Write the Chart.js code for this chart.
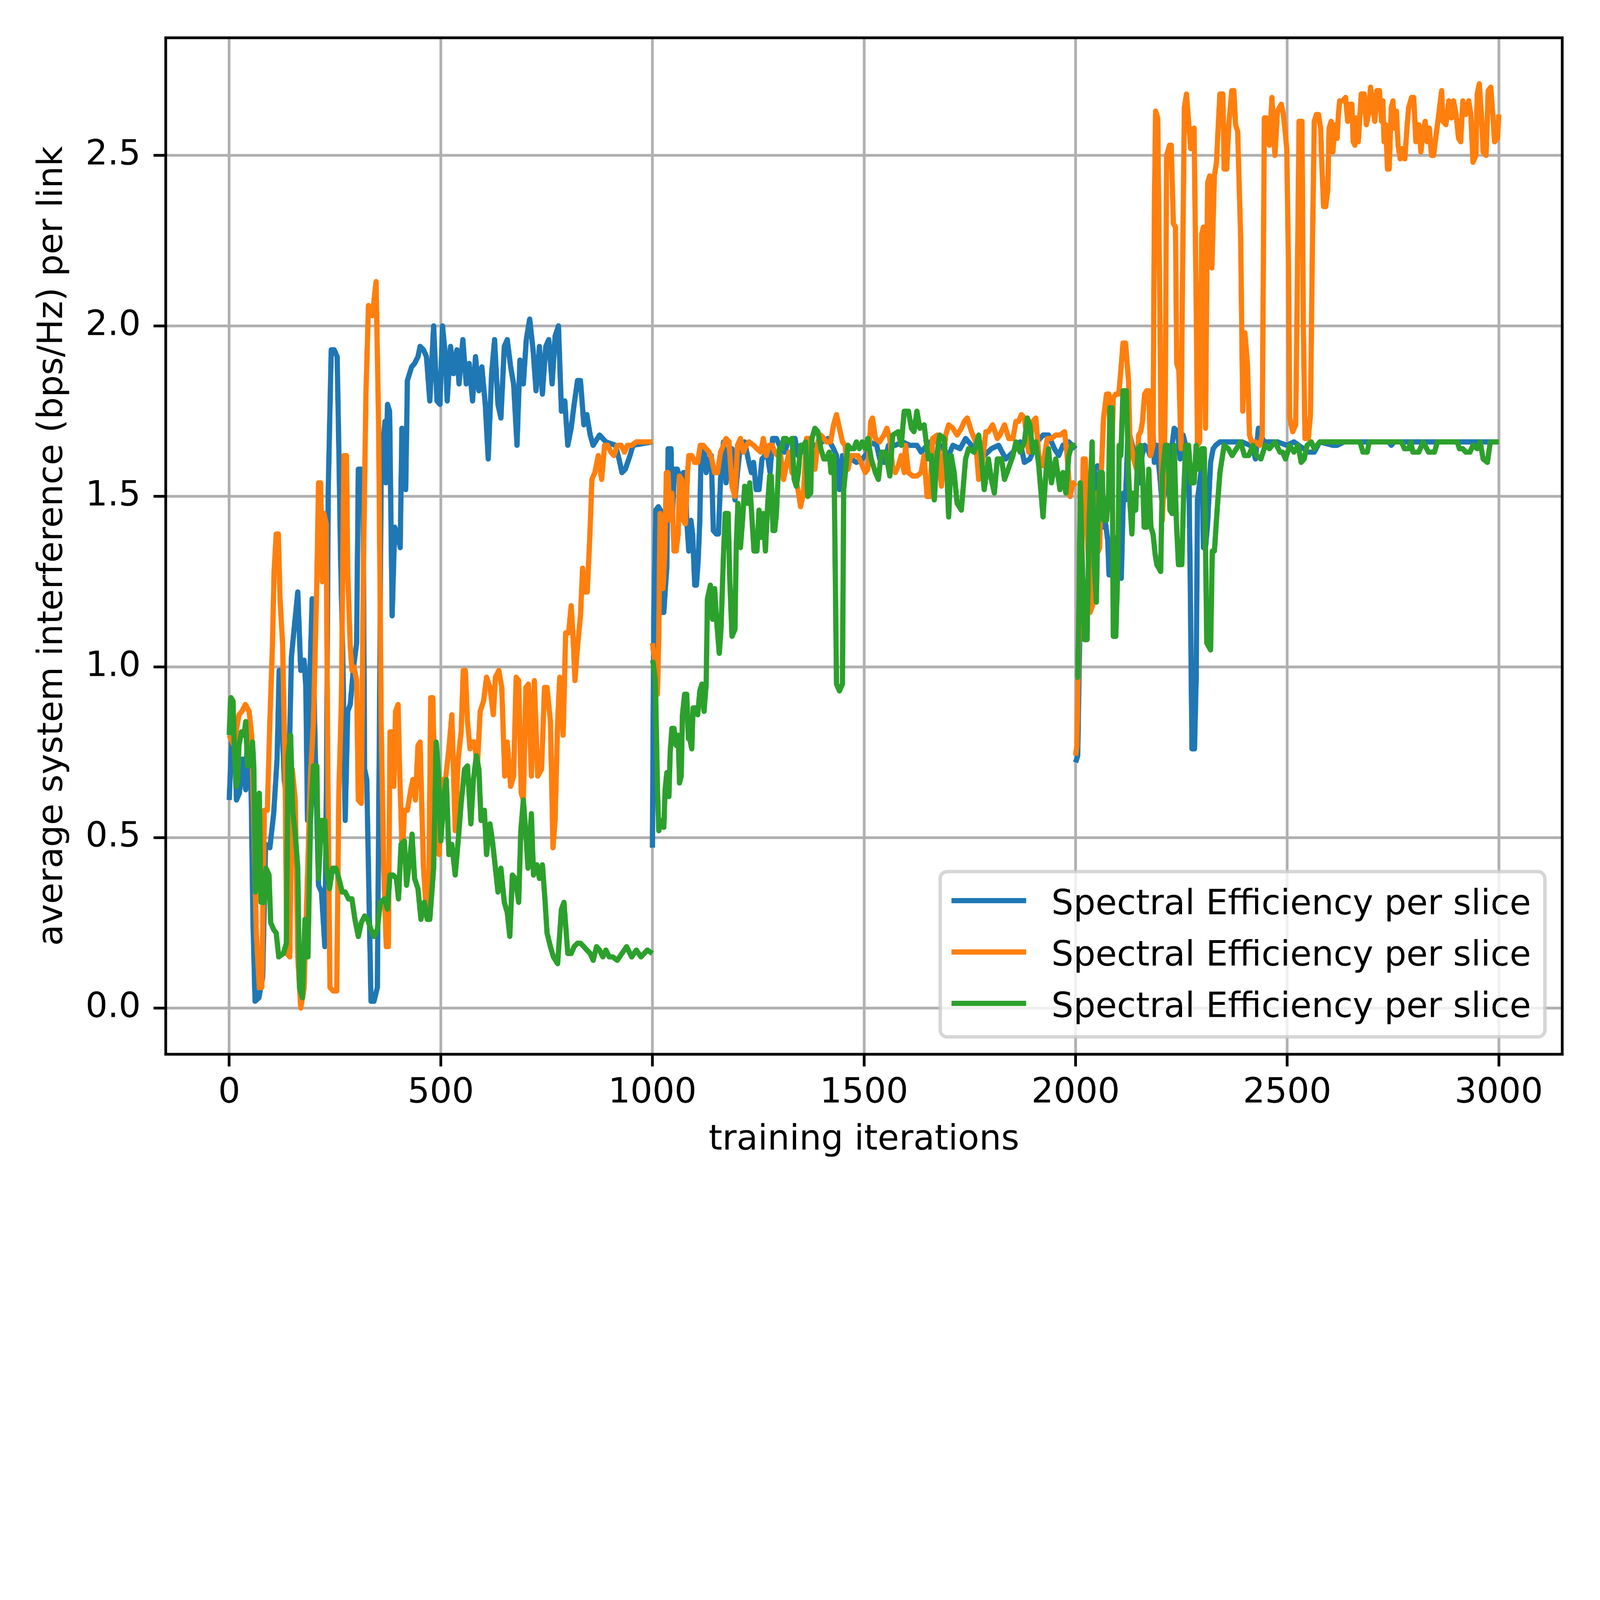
<!DOCTYPE html>
<html>
<head>
<meta charset="utf-8">
<script src="https://cdn.jsdelivr.net/npm/chart.js@4.4.0/dist/chart.umd.min.js"></script>
<style>
  html, body { margin: 0; padding: 0; background: #fff; overflow: hidden; }
  canvas { display: block; }
</style>
</head>
<body>
<canvas id="chart" width="6400" height="4800" style="width:min(100vw, calc(100vh * 4 / 3));height:auto"></canvas>
<script>
// [iteration, value], one array per run of 1000 iterations
const blueRun1 = [[0,0.61],[6,0.80],[11,0.84],[17,0.61],[24,0.63],[32,0.73],[39,0.64],[43,0.81],[51,0.70],[56,0.26],[61,0.02],[70,0.03],[79,0.09],[86,0.48],[96,0.47],[105,0.57],[113,0.73],[118,0.99],[124,0.87],[130,0.67],[139,0.58],[147,1.03],[154,1.12],[162,1.22],[169,0.99],[177,1.02],[181,0.94],[185,0.55],[189,0.91],[196,1.20],[203,0.77],[211,0.36],[218,0.34],[226,0.18],[230,0.70],[234,1.52],[241,1.93],[248,1.93],[255,1.91],[259,1.64],[263,1.33],[269,0.99],[274,0.55],[280,0.87],[286,0.89],[293,0.99],[301,1.07],[305,1.58],[312,1.58],[316,1.54],[320,0.70],[325,0.67],[329,0.41],[335,0.02],[342,0.02],[350,0.06],[355,0.84],[359,1.57],[363,1.65],[368,1.72],[370,1.54],[374,1.77],[379,1.75],[382,1.45],[385,1.15],[391,1.41],[400,1.38],[404,1.35],[408,1.70],[414,1.68],[417,1.52],[421,1.84],[431,1.88],[438,1.89],[446,1.91],[451,1.94],[459,1.93],[466,1.91],[474,1.78],[483,2.00],[491,1.78],[498,1.77],[504,2.00],[511,1.91],[515,1.78],[523,1.94],[530,1.86],[538,1.93],[543,1.83],[552,1.96],[560,1.83],[567,1.89],[575,1.78],[582,1.91],[590,1.81],[597,1.88],[605,1.77],[612,1.61],[620,1.86],[627,1.96],[635,1.77],[642,1.73],[650,1.94],[657,1.96],[665,1.88],[672,1.83],[680,1.65],[687,1.90],[695,1.83],[702,1.96],[710,2.02],[718,1.93],[725,1.81],[733,1.94],[740,1.80],[748,1.94],[755,1.96],[763,1.83],[770,1.97],[778,2.00],[785,1.75],[793,1.78],[800,1.65],[808,1.70],[815,1.77],[823,1.84],[830,1.84],[838,1.71],[845,1.74],[853,1.68],[860,1.65],[875,1.68],[890,1.66],[913,1.65],[921,1.61],[928,1.57],[936,1.58],[947,1.62],[954,1.65],[1000,1.66]];
const blueRun2 = [[1000,0.47],[1003,1.11],[1008,1.46],[1014,1.47],[1019,1.46],[1022,1.16],[1027,1.16],[1030,1.22],[1034,1.29],[1037,1.64],[1044,1.64],[1047,1.43],[1052,1.58],[1059,1.58],[1063,1.56],[1068,1.53],[1073,1.57],[1078,1.57],[1081,1.43],[1086,1.34],[1091,1.43],[1095,1.39],[1100,1.24],[1104,1.24],[1108,1.31],[1112,1.43],[1115,1.63],[1122,1.64],[1127,1.57],[1134,1.61],[1139,1.62],[1144,1.40],[1151,1.39],[1156,1.39],[1161,1.55],[1168,1.66],[1174,1.54],[1181,1.64],[1188,1.64],[1195,1.49],[1201,1.57],[1208,1.65],[1218,1.66],[1228,1.60],[1234,1.57],[1239,1.60],[1245,1.52],[1252,1.52],[1259,1.61],[1266,1.62],[1272,1.62],[1278,1.57],[1284,1.67],[1293,1.67],[1300,1.65],[1306,1.63],[1313,1.63],[1320,1.66],[1330,1.67],[1337,1.67],[1344,1.62],[1361,1.64],[1377,1.65],[1391,1.65],[1401,1.66],[1415,1.67],[1428,1.64],[1435,1.62],[1442,1.52],[1449,1.62],[1455,1.59],[1469,1.61],[1482,1.60],[1496,1.61],[1509,1.63],[1514,1.66],[1530,1.65],[1537,1.61],[1547,1.60],[1558,1.65],[1574,1.65],[1591,1.66],[1608,1.65],[1625,1.65],[1635,1.63],[1649,1.65],[1666,1.67],[1686,1.64],[1700,1.62],[1710,1.65],[1727,1.64],[1740,1.67],[1754,1.65],[1767,1.63],[1784,1.62],[1801,1.64],[1818,1.65],[1835,1.61],[1852,1.63],[1869,1.66],[1879,1.60],[1892,1.61],[1909,1.66],[1923,1.68],[1936,1.68],[1950,1.64],[1960,1.62],[1970,1.65],[1984,1.66],[2000,1.64]];
const blueRun3 = [[2000,0.72],[2005,0.74],[2010,1.11],[2015,1.38],[2019,1.51],[2024,1.54],[2029,1.49],[2034,1.38],[2040,1.30],[2045,1.58],[2052,1.59],[2058,1.58],[2065,1.41],[2071,1.42],[2076,1.37],[2079,1.27],[2084,1.27],[2087,1.34],[2091,1.38],[2095,1.35],[2102,1.27],[2108,1.26],[2113,1.51],[2118,1.49],[2123,1.66],[2128,1.68],[2134,1.65],[2141,1.62],[2147,1.62],[2152,1.54],[2157,1.62],[2163,1.65],[2170,1.64],[2176,1.62],[2183,1.69],[2186,1.60],[2192,1.65],[2199,1.56],[2205,1.47],[2212,1.54],[2217,1.51],[2222,1.61],[2228,1.65],[2233,1.70],[2241,1.69],[2247,1.61],[2254,1.68],[2260,1.65],[2267,1.64],[2271,1.24],[2275,0.76],[2281,0.76],[2285,0.97],[2288,1.49],[2293,1.54],[2299,1.60],[2302,1.35],[2307,1.35],[2312,1.42],[2319,1.60],[2325,1.64],[2331,1.65],[2341,1.66],[2364,1.66],[2380,1.66],[2393,1.66],[2412,1.65],[2419,1.64],[2425,1.61],[2432,1.70],[2445,1.66],[2477,1.66],[2499,1.65],[2516,1.66],[2550,1.63],[2564,1.63],[2577,1.66],[2608,1.65],[2618,1.65],[2635,1.66],[2740,1.66],[2746,1.65],[2753,1.66],[2821,1.66],[3000,1.66]];

const orangeRun1 = [[0,0.80],[11,0.77],[23,0.86],[30,0.87],[38,0.89],[47,0.87],[53,0.80],[58,0.55],[64,0.22],[71,0.06],[77,0.06],[83,0.58],[90,0.58],[96,0.84],[102,1.06],[106,1.28],[111,1.39],[116,1.39],[120,1.20],[126,1.07],[132,0.70],[136,0.16],[143,0.15],[149,0.70],[156,0.61],[162,0.15],[169,0.00],[177,0.06],[184,0.35],[192,0.68],[199,0.84],[207,1.25],[211,1.54],[216,1.54],[220,1.25],[224,1.45],[229,1.42],[233,0.70],[238,0.06],[246,0.05],[254,0.05],[259,0.63],[265,0.90],[271,1.62],[277,1.62],[280,1.28],[286,1.06],[290,0.99],[295,1.00],[301,0.96],[305,0.61],[312,0.60],[317,1.28],[323,1.80],[329,2.06],[338,2.03],[347,2.13],[353,1.71],[359,0.84],[365,0.41],[371,0.18],[376,0.18],[380,0.81],[384,0.81],[389,0.65],[393,0.87],[399,0.89],[403,0.68],[409,0.44],[414,0.58],[421,0.58],[429,0.64],[434,0.67],[440,0.61],[446,0.77],[451,0.78],[459,0.41],[466,0.28],[471,0.28],[476,0.91],[481,0.91],[489,0.47],[496,0.45],[504,0.67],[511,0.67],[519,0.76],[526,0.86],[534,0.52],[541,0.73],[548,0.81],[553,0.99],[558,0.99],[563,0.84],[569,0.76],[575,0.78],[580,0.78],[586,0.70],[593,0.87],[601,0.90],[608,0.97],[616,0.94],[624,0.86],[629,0.97],[637,0.99],[644,0.94],[651,0.68],[657,0.78],[665,0.65],[672,0.68],[678,0.97],[684,0.96],[690,0.63],[695,0.61],[701,0.94],[707,0.95],[714,0.68],[721,0.96],[729,0.68],[738,0.70],[745,0.94],[751,0.94],[759,0.84],[765,0.47],[770,0.55],[776,0.84],[781,0.97],[789,0.80],[795,1.10],[802,1.10],[808,1.18],[812,1.10],[817,0.96],[823,1.06],[830,1.15],[835,1.29],[840,1.22],[846,1.22],[852,1.38],[857,1.55],[864,1.57],[872,1.62],[880,1.55],[887,1.65],[894,1.65],[902,1.63],[909,1.62],[917,1.65],[926,1.65],[934,1.63],[941,1.65],[951,1.65],[962,1.66],[1000,1.66]];
const orangeRun2 = [[1000,1.07],[1002,1.05],[1007,1.01],[1012,0.92],[1015,1.09],[1018,1.45],[1022,1.43],[1025,1.23],[1029,1.33],[1033,1.57],[1037,1.57],[1041,1.43],[1046,1.51],[1051,1.34],[1056,1.34],[1061,1.39],[1064,1.56],[1069,1.55],[1073,1.43],[1078,1.42],[1083,1.57],[1086,1.62],[1093,1.62],[1100,1.60],[1107,1.60],[1113,1.65],[1120,1.65],[1127,1.64],[1134,1.63],[1140,1.61],[1147,1.57],[1154,1.57],[1161,1.63],[1168,1.65],[1174,1.67],[1181,1.66],[1188,1.53],[1195,1.50],[1198,1.57],[1201,1.65],[1208,1.67],[1215,1.63],[1222,1.65],[1228,1.66],[1239,1.65],[1247,1.64],[1256,1.63],[1262,1.67],[1269,1.62],[1276,1.65],[1283,1.65],[1289,1.63],[1296,1.62],[1303,1.62],[1310,1.55],[1316,1.59],[1323,1.63],[1330,1.57],[1337,1.56],[1344,1.52],[1350,1.47],[1357,1.51],[1364,1.67],[1371,1.67],[1377,1.59],[1384,1.58],[1391,1.66],[1398,1.68],[1405,1.67],[1411,1.66],[1421,1.66],[1428,1.71],[1435,1.74],[1442,1.70],[1449,1.66],[1455,1.65],[1462,1.58],[1469,1.62],[1476,1.62],[1486,1.62],[1496,1.59],[1503,1.57],[1509,1.58],[1516,1.72],[1520,1.73],[1527,1.67],[1537,1.66],[1547,1.68],[1554,1.70],[1561,1.67],[1568,1.58],[1574,1.57],[1581,1.59],[1588,1.62],[1595,1.57],[1598,1.65],[1605,1.57],[1615,1.56],[1625,1.56],[1635,1.57],[1642,1.62],[1649,1.50],[1656,1.50],[1662,1.67],[1673,1.68],[1683,1.53],[1693,1.68],[1700,1.71],[1710,1.70],[1720,1.68],[1730,1.70],[1737,1.72],[1744,1.73],[1754,1.69],[1764,1.66],[1771,1.55],[1777,1.57],[1788,1.69],[1794,1.69],[1804,1.71],[1815,1.67],[1821,1.68],[1832,1.71],[1842,1.67],[1852,1.67],[1859,1.72],[1865,1.72],[1872,1.74],[1879,1.73],[1889,1.63],[1899,1.72],[1906,1.73],[1913,1.62],[1923,1.59],[1933,1.67],[1943,1.67],[1953,1.68],[1963,1.68],[1974,1.69],[1980,1.62],[1987,1.50],[1994,1.54],[2000,1.53]];
const orangeRun3 = [[2000,0.74],[2003,0.77],[2006,0.97],[2010,1.24],[2015,1.35],[2018,1.61],[2023,1.61],[2027,1.43],[2034,1.16],[2040,1.18],[2045,1.51],[2050,1.33],[2057,1.35],[2061,1.58],[2066,1.73],[2073,1.80],[2079,1.80],[2084,1.53],[2089,1.79],[2095,1.80],[2102,1.80],[2107,1.87],[2112,1.95],[2118,1.95],[2125,1.84],[2128,1.68],[2133,1.64],[2137,1.61],[2144,1.58],[2149,1.68],[2154,1.69],[2158,1.72],[2163,1.80],[2168,1.81],[2173,1.81],[2177,1.62],[2183,1.65],[2186,2.33],[2189,2.63],[2194,2.61],[2199,2.06],[2202,1.65],[2205,1.43],[2209,1.57],[2212,1.79],[2215,2.50],[2222,2.53],[2226,2.53],[2231,2.30],[2236,2.29],[2239,1.89],[2244,1.87],[2249,1.64],[2252,2.06],[2257,2.64],[2262,2.68],[2267,2.60],[2272,2.52],[2280,2.58],[2285,2.06],[2288,1.65],[2293,1.66],[2298,2.27],[2302,2.29],[2307,1.70],[2312,2.42],[2317,2.44],[2322,2.17],[2328,2.44],[2333,2.48],[2336,2.56],[2341,2.68],[2348,2.68],[2351,2.46],[2357,2.46],[2362,2.59],[2369,2.69],[2374,2.69],[2378,2.59],[2383,2.57],[2390,2.26],[2395,1.75],[2400,1.98],[2406,1.89],[2411,1.68],[2416,1.66],[2425,1.66],[2435,1.65],[2441,1.68],[2446,2.61],[2451,2.61],[2458,2.53],[2464,2.67],[2471,2.50],[2477,2.63],[2486,2.65],[2491,2.62],[2496,2.56],[2499,2.52],[2503,2.18],[2506,1.73],[2513,1.69],[2520,1.71],[2523,2.02],[2528,2.60],[2535,2.60],[2538,2.02],[2542,1.67],[2550,1.67],[2555,1.74],[2559,2.18],[2564,2.60],[2569,2.62],[2574,2.62],[2579,2.58],[2582,2.47],[2586,2.35],[2591,2.35],[2596,2.40],[2599,2.58],[2604,2.60],[2608,2.51],[2613,2.59],[2618,2.55],[2621,2.62],[2624,2.66],[2631,2.66],[2638,2.67],[2643,2.60],[2648,2.65],[2653,2.65],[2656,2.54],[2660,2.53],[2663,2.61],[2668,2.54],[2675,2.68],[2682,2.68],[2687,2.59],[2692,2.62],[2697,2.70],[2704,2.63],[2707,2.60],[2712,2.69],[2718,2.69],[2723,2.60],[2726,2.66],[2729,2.54],[2733,2.59],[2737,2.46],[2741,2.46],[2746,2.64],[2750,2.66],[2753,2.58],[2758,2.63],[2762,2.53],[2767,2.49],[2772,2.52],[2778,2.49],[2783,2.58],[2787,2.64],[2794,2.67],[2799,2.67],[2804,2.54],[2811,2.59],[2816,2.51],[2821,2.57],[2826,2.60],[2831,2.54],[2836,2.58],[2841,2.50],[2846,2.50],[2851,2.55],[2858,2.62],[2865,2.69],[2868,2.60],[2875,2.59],[2882,2.66],[2888,2.61],[2893,2.66],[2899,2.62],[2905,2.55],[2910,2.54],[2915,2.66],[2922,2.62],[2929,2.66],[2934,2.62],[2939,2.48],[2946,2.50],[2949,2.68],[2954,2.71],[2959,2.62],[2963,2.51],[2970,2.50],[2975,2.69],[2981,2.70],[2986,2.62],[2990,2.54],[2997,2.55],[3000,2.62]];

const greenRun1 = [[0,0.80],[3,0.90],[4,0.91],[9,0.90],[12,0.76],[17,0.65],[20,0.67],[23,0.77],[29,0.81],[35,0.80],[39,0.84],[43,0.71],[49,0.71],[55,0.78],[58,0.71],[62,0.34],[68,0.61],[71,0.63],[75,0.31],[83,0.31],[87,0.41],[94,0.39],[98,0.25],[105,0.23],[111,0.22],[117,0.15],[128,0.16],[135,0.19],[139,0.74],[145,0.80],[150,0.58],[156,0.51],[162,0.41],[166,0.06],[173,0.03],[179,0.26],[186,0.15],[192,0.55],[199,0.71],[207,0.71],[211,0.38],[218,0.55],[226,0.55],[230,0.41],[237,0.35],[244,0.41],[252,0.41],[259,0.38],[267,0.34],[274,0.34],[282,0.32],[290,0.32],[297,0.26],[305,0.21],[312,0.25],[320,0.27],[327,0.26],[335,0.23],[342,0.21],[350,0.23],[357,0.31],[367,0.32],[374,0.29],[380,0.39],[387,0.39],[395,0.38],[400,0.32],[406,0.48],[414,0.49],[419,0.36],[427,0.44],[432,0.51],[438,0.38],[446,0.35],[453,0.26],[461,0.31],[468,0.26],[474,0.26],[483,0.41],[489,0.78],[494,0.70],[500,0.49],[508,0.63],[513,0.67],[519,0.45],[526,0.48],[534,0.39],[541,0.49],[548,0.60],[556,0.70],[563,0.71],[571,0.54],[577,0.67],[584,0.74],[590,0.70],[595,0.55],[603,0.58],[608,0.45],[616,0.54],[622,0.49],[629,0.41],[635,0.34],[642,0.41],[650,0.31],[657,0.28],[663,0.21],[669,0.39],[676,0.38],[684,0.31],[689,0.52],[695,0.61],[701,0.51],[706,0.41],[714,0.57],[719,0.39],[727,0.42],[733,0.38],[740,0.42],[746,0.32],[751,0.22],[759,0.18],[766,0.15],[776,0.13],[785,0.29],[791,0.31],[800,0.16],[808,0.16],[815,0.18],[823,0.19],[830,0.19],[838,0.18],[845,0.17],[853,0.16],[860,0.14],[868,0.18],[875,0.17],[883,0.15],[890,0.17],[898,0.15],[906,0.15],[917,0.14],[928,0.16],[939,0.18],[951,0.15],[962,0.17],[973,0.15],[988,0.17],[1000,0.16]];
const greenRun2 = [[1000,1.02],[1002,1.01],[1007,0.96],[1012,0.64],[1015,0.52],[1022,0.55],[1027,0.53],[1030,0.64],[1034,0.69],[1039,0.62],[1042,0.75],[1046,0.82],[1051,0.82],[1056,0.77],[1061,0.80],[1064,0.66],[1068,0.68],[1071,0.86],[1076,0.92],[1081,0.92],[1085,0.79],[1088,0.79],[1093,0.76],[1096,0.88],[1102,0.88],[1107,0.86],[1112,0.93],[1117,0.95],[1122,0.87],[1127,0.95],[1130,1.20],[1137,1.24],[1142,1.14],[1147,1.23],[1152,1.13],[1158,1.04],[1162,1.11],[1168,1.33],[1172,1.45],[1179,1.45],[1183,1.25],[1188,1.09],[1195,1.11],[1198,1.35],[1202,1.48],[1208,1.35],[1213,1.43],[1218,1.53],[1225,1.48],[1230,1.54],[1235,1.44],[1240,1.34],[1247,1.34],[1252,1.46],[1257,1.38],[1262,1.45],[1267,1.34],[1272,1.47],[1277,1.56],[1281,1.56],[1285,1.40],[1289,1.40],[1293,1.45],[1300,1.64],[1306,1.64],[1310,1.67],[1316,1.67],[1323,1.66],[1330,1.67],[1335,1.55],[1340,1.53],[1345,1.57],[1350,1.65],[1357,1.65],[1362,1.66],[1367,1.50],[1374,1.51],[1377,1.67],[1384,1.70],[1391,1.69],[1398,1.64],[1405,1.61],[1411,1.61],[1418,1.63],[1422,1.57],[1429,1.62],[1435,0.95],[1442,0.93],[1449,0.95],[1452,1.52],[1456,1.57],[1462,1.65],[1469,1.64],[1476,1.64],[1482,1.66],[1489,1.64],[1496,1.66],[1503,1.64],[1509,1.67],[1517,1.61],[1527,1.57],[1534,1.55],[1541,1.63],[1551,1.63],[1561,1.56],[1568,1.68],[1581,1.69],[1588,1.65],[1595,1.75],[1605,1.75],[1612,1.70],[1618,1.69],[1625,1.75],[1632,1.70],[1642,1.71],[1652,1.61],[1659,1.62],[1666,1.49],[1673,1.63],[1679,1.68],[1689,1.67],[1696,1.57],[1700,1.44],[1706,1.62],[1713,1.57],[1720,1.48],[1730,1.46],[1740,1.61],[1747,1.64],[1760,1.63],[1771,1.68],[1777,1.62],[1784,1.52],[1794,1.61],[1801,1.55],[1808,1.51],[1815,1.61],[1825,1.61],[1832,1.55],[1838,1.57],[1852,1.62],[1859,1.66],[1869,1.63],[1879,1.66],[1886,1.73],[1892,1.71],[1899,1.63],[1906,1.66],[1913,1.59],[1923,1.44],[1930,1.57],[1936,1.64],[1943,1.54],[1953,1.61],[1963,1.52],[1970,1.57],[1977,1.51],[1984,1.62],[1991,1.65],[2000,1.65]];
const greenRun3 = [[2000,0.97],[2005,0.97],[2008,1.18],[2011,1.54],[2016,1.30],[2021,1.08],[2027,1.08],[2032,1.43],[2039,1.66],[2044,1.30],[2049,1.19],[2052,1.39],[2057,1.57],[2063,1.57],[2066,1.43],[2073,1.43],[2078,1.51],[2081,1.76],[2086,1.76],[2089,1.09],[2095,1.09],[2100,1.30],[2103,1.65],[2107,1.62],[2112,1.81],[2120,1.81],[2125,1.57],[2128,1.49],[2133,1.39],[2137,1.51],[2142,1.46],[2147,1.64],[2154,1.65],[2158,1.58],[2162,1.41],[2168,1.41],[2173,1.58],[2178,1.41],[2183,1.39],[2188,1.33],[2192,1.30],[2201,1.28],[2205,1.56],[2212,1.65],[2218,1.65],[2223,1.46],[2228,1.45],[2233,1.65],[2238,1.43],[2243,1.30],[2251,1.30],[2255,1.49],[2260,1.65],[2267,1.65],[2273,1.54],[2280,1.54],[2285,1.65],[2291,1.58],[2298,1.64],[2304,1.64],[2310,1.07],[2319,1.05],[2323,1.34],[2328,1.34],[2335,1.47],[2341,1.57],[2346,1.61],[2351,1.65],[2361,1.64],[2370,1.62],[2380,1.64],[2390,1.66],[2399,1.62],[2409,1.62],[2419,1.65],[2428,1.62],[2438,1.61],[2448,1.65],[2458,1.64],[2471,1.66],[2483,1.63],[2489,1.63],[2496,1.61],[2506,1.65],[2516,1.63],[2526,1.65],[2533,1.60],[2540,1.61],[2547,1.65],[2557,1.66],[2564,1.64],[2577,1.66],[2672,1.66],[2679,1.63],[2689,1.63],[2694,1.66],[2770,1.66],[2777,1.64],[2787,1.64],[2792,1.66],[2797,1.63],[2811,1.63],[2821,1.66],[2834,1.63],[2848,1.63],[2855,1.66],[2902,1.66],[2907,1.64],[2915,1.64],[2922,1.63],[2932,1.63],[2939,1.65],[2949,1.64],[2956,1.66],[2963,1.61],[2973,1.60],[2980,1.66],[3000,1.66]];

const seriesLabels = ["Spectral Efficiency per slice", "Spectral Efficiency per slice", "Spectral Efficiency per slice"];
const seriesColors = ["#1f77b4", "#ff7f0e", "#2ca02c"];
const xTicks = [0, 500, 1000, 1500, 2000, 2500, 3000];
const yTicks = [0, 0.5, 1.0, 1.5, 2.0, 2.5];

// join the runs, with a null between them so the line breaks like the original
function joinRuns(runs) {
  var out = [];
  for (var r = 0; r < runs.length; r++) {
    if (r > 0) out.push({ x: runs[r][0][0], y: null });
    for (var i = 0; i < runs[r].length; i++) {
      out.push({ x: runs[r][i][0], y: runs[r][i][1] });
    }
  }
  return out;
}

const FONT = "'DejaVu Sans', sans-serif";
const FS = 139; // 10pt at 1000 dpi

Chart.defaults.font.family = FONT;
Chart.defaults.font.size = FS;
Chart.defaults.color = "#000";

// axes frame on all four sides, then the legend box in the lower right
const frameAndLegend = {
  id: "frameAndLegend",
  afterDatasetsDraw(chart) {
    const ctx = chart.ctx;
    const a = chart.chartArea;
    ctx.save();
    ctx.strokeStyle = "#000";
    ctx.lineWidth = 11;
    ctx.strokeRect(a.left, a.top, a.right - a.left, a.bottom - a.top);

    ctx.font = FS + "px " + FONT;
    var textW = 0;
    chart.data.datasets.forEach(function (ds) {
      textW = Math.max(textW, ctx.measureText(ds.label).width);
    });
    const pad = 0.4 * FS, handleLen = 2 * FS, handleGap = 0.8 * FS;
    const w = pad + handleLen + handleGap + textW + pad;
    const h = 661;
    const right = a.right - 0.5 * FS;
    const bottom = a.bottom - 0.5 * FS;
    const left = right - w, top = bottom - h;

    ctx.beginPath();
    ctx.roundRect(left, top, w, h, 0.2 * FS);
    ctx.fillStyle = "rgba(255,255,255,0.8)";
    ctx.fill();
    ctx.strokeStyle = "rgba(204,204,204,0.8)";
    ctx.lineWidth = 14;
    ctx.stroke();

    chart.data.datasets.forEach(function (ds, i) {
      const yRow = top + 116 + i * 205.5;
      const hx = left + pad;
      ctx.beginPath();
      ctx.moveTo(hx, yRow);
      ctx.lineTo(hx + handleLen, yRow);
      ctx.strokeStyle = ds.borderColor;
      ctx.lineWidth = 21;
      ctx.lineCap = "square";
      ctx.stroke();
      ctx.fillStyle = "#000";
      ctx.textAlign = "left";
      ctx.textBaseline = "alphabetic";
      ctx.fillText(ds.label, hx + handleLen + handleGap, yRow + 54);
    });
    ctx.restore();
  },
};

const datasets = [
  { label: seriesLabels[0], data: joinRuns([blueRun1, blueRun2, blueRun3]), borderColor: seriesColors[0], order: 3 },
  { label: seriesLabels[1], data: joinRuns([orangeRun1, orangeRun2, orangeRun3]), borderColor: seriesColors[1], order: 2 },
  { label: seriesLabels[2], data: joinRuns([greenRun1, greenRun2, greenRun3]), borderColor: seriesColors[2], order: 1 },
].map(function (d) {
  return Object.assign({
    borderWidth: 21,
    pointRadius: 0,
    tension: 0,
    spanGaps: false,
    fill: false,
    borderJoinStyle: "round",
    borderCapStyle: "butt",
  }, d);
});

const gridOpts = {
  color: "#b0b0b0",
  lineWidth: 11,
  drawTicks: true,
  tickLength: 49,
  tickWidth: 11,
  tickColor: "#000",
};

new Chart(document.getElementById("chart"), {
  type: "line",
  data: { datasets: datasets },
  options: {
    responsive: false,
    devicePixelRatio: 1,
    animation: false,
    parsing: false,
    layout: { padding: { left: 0, top: 151, right: 151, bottom: 0 } },
    plugins: { legend: { display: false }, tooltip: { enabled: false } },
    scales: {
      x: {
        type: "linear",
        min: -150,
        max: 3150,
        afterBuildTicks: function (s) { s.ticks = xTicks.map(function (v) { return { value: v }; }); },
        afterFit: function (s) { s.height = 583; },
        ticks: { autoSkip: false, maxRotation: 0, padding: 24, color: "#000", callback: function (v) { return String(v); } },
        grid: gridOpts,
        border: { display: false },
        title: { display: true, text: "training iterations", color: "#000", padding: { top: 0, bottom: 155 } },
      },
      y: {
        type: "linear",
        min: -0.1355,
        max: 2.845,
        afterBuildTicks: function (s) { s.ticks = yTicks.map(function (v) { return { value: v }; }); },
        afterFit: function (s) { s.width = 663; },
        ticks: { autoSkip: false, padding: 51, color: "#000", callback: function (v) { return v.toFixed(1); } },
        grid: gridOpts,
        border: { display: false },
        title: { display: true, text: "average system interference (bps/Hz) per link", color: "#000", padding: { top: 128, bottom: 0 } },
      },
    },
  },
  plugins: [frameAndLegend],
});
</script>
</body>
</html>
